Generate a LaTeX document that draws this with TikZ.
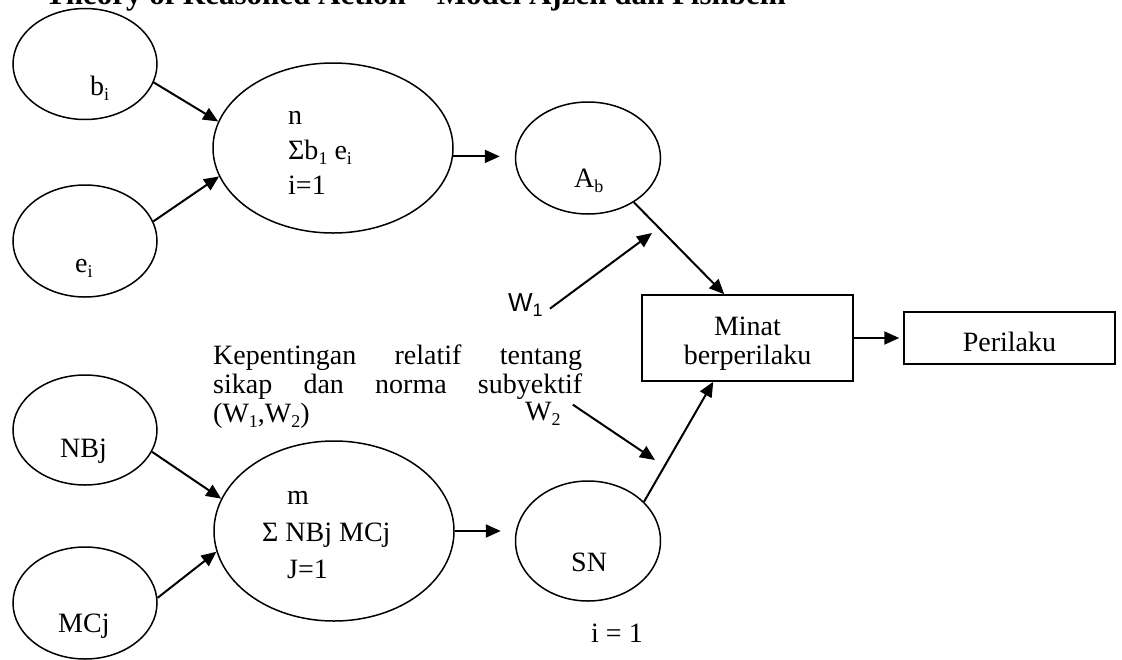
\documentclass[tikz,border=0pt]{standalone}
\usepackage{fontspec}
\setmainfont{Liberation Serif}
\newfontfamily\arialf{Liberation Sans}
\usetikzlibrary{arrows.meta,shapes.geometric,calc}
\newcommand\mysub[1]{\raisebox{-0.2em}{\fontsize{18}{18}\selectfont #1}}
\begin{document}
\begin{tikzpicture}[x=1pt,y=-1pt,
  oval/.style={draw,ellipse,line width=1.5pt,inner sep=0pt},
  box/.style={draw,rectangle,line width=1.5pt,inner sep=0pt,align=center,font=\fontsize{28}{29}\selectfont},
  arr/.style={line width=2pt,-{Triangle[length=15pt,width=13pt]}},
  lbl/.style={inner sep=0pt,anchor=base west,font=\fontsize{28}{28}\selectfont},
]
\useasboundingbox (0,0) rectangle (1122,659);
\clip (0,0) rectangle (1122,659);
\fill[white] (0,0) rectangle (1122,659);

% title (cut off at the top)
\node[inner sep=0pt,anchor=base west,font=\bfseries\fontsize{31}{31}\selectfont] (title) at (45,4) {Theory of Reasoned Action – Model Ajzen dan Fishbein};

% ellipses
\node[oval,minimum width=144pt,minimum height=111pt] (bi) at (85,64) {};
\node[oval,minimum width=144pt,minimum height=112pt] (ei) at (85,241) {};
\node[oval,minimum width=240pt,minimum height=170pt] (sumA) at (333,148) {};
\node[oval,minimum width=145pt,minimum height=112pt] (Ab) at (588,158) {};
\node[oval,minimum width=144pt,minimum height=110pt] (nbj) at (85,430) {};
\node[oval,minimum width=144pt,minimum height=112pt] (mcj) at (85,603) {};
\node[oval,minimum width=240pt,minimum height=180pt] (sumN) at (334,531) {};
\node[oval,minimum width=145pt,minimum height=120pt] (SN) at (588,541) {};

% boxes
\node[box,minimum width=211pt,minimum height=86pt,text height=52pt,text depth=0pt] (minat) at (747.5,338) {Minat\\berperilaku};
\node[box,minimum width=211pt,minimum height=52pt,text height=26pt,text depth=0pt] (perilaku) at (1009.5,338) {Perilaku};

% labels inside ellipses
\node[lbl] (tbi) at (90,95) {b\mysub{i}};
\node[lbl] (tei) at (75,272) {e\mysub{i}};
\node[lbl] (tAb) at (574,187) {A\mysub{b}};
\node[lbl] (tnbj) at (60,457) {NBj};
\node[lbl] (tmcj) at (58,632) {MCj};
\node[lbl] (tSN) at (571,571) {SN};
\node[lbl,align=left,font=\fontsize{28}{35}\selectfont] (tsumA) at (288,194) {n\\Σb\mysub{1} e\mysub{i}\\i=1};
\node[lbl,align=left,font=\fontsize{28}{37}\selectfont] (tsumN) at (262,578) {\hspace*{25pt}m\\Σ NBj MCj\\\hspace*{25pt}J=1};
\node[lbl] (ione) at (591,642) {i = 1};

% weights text
\node[lbl,align=left,font=\fontsize{28}{29}\selectfont] (kep) at (213,422)
  {\makebox[369pt][s]{Kepentingan relatif tentang}\\
   \makebox[369pt][s]{sikap dan norma subyektif}\\
   (W\mysub{1},W\mysub{2})};
\node[inner sep=0pt,anchor=base west,font=\arialf\fontsize{26}{26}\selectfont] (w1) at (508,311) {W\mysub{1}};
\node[lbl] (w2) at (525,420) {W\mysub{2}};
\coordinate (w1tip) at (652,233);
\coordinate (w2tip) at (655,460);

% connectors
\draw[arr] (bi.-15) -- (sumA.167);
\draw[arr] (ei.16) -- (sumA.-166);
\draw[arr,shorten >=15pt] (sumA.-4) -- (sumA.-4 -| Ab.west);
\draw[arr] (nbj.-18) -- (sumN.164);
\draw[arr] (mcj.4) -- (sumN.-170);
\draw[arr,shorten >=14pt] (sumN.east) -- (sumN.east -| SN.west);
\draw[arr] (Ab.-44) -- ($(minat.north west)+(83,0)$);
\draw[arr] (SN.35) -- ($(minat.south west)+(72,0)$);
\draw[arr] ($(w1.east)+(7,4)$) -- (w1tip);
\draw[arr] ($(w2.east)+(12,-9)$) -- (w2tip);
\draw[arr,shorten >=4pt] (minat.east) -- (perilaku.west);
\end{tikzpicture}
\end{document}
